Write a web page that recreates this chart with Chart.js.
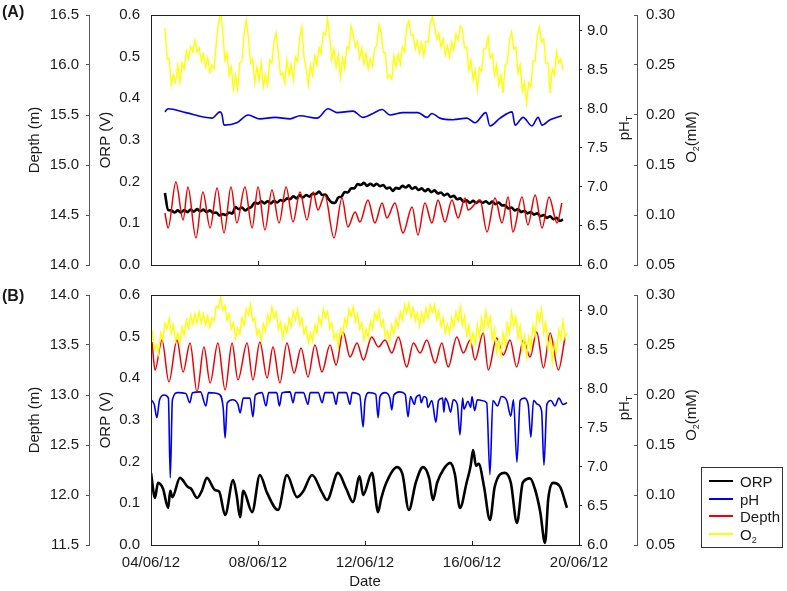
<!DOCTYPE html>
<html>
<head>
<meta charset="utf-8">
<script src="https://cdn.jsdelivr.net/npm/chart.js@4.4.1/dist/chart.umd.min.js"></script>
<style>
  body { margin: 0; background: #fff; font-family: "Liberation Sans", Arial, sans-serif; }
  #wrap { position: relative; width: 787px; height: 591px; overflow: hidden; }
  canvas { position: absolute; left: 0; }
  .lbl { position: absolute; font-size: 15px; color: #1a1a1a; white-space: nowrap; line-height: 1; }
  .rot { transform: translate(-50%, -50%) rotate(-90deg); }
  .panel { font-weight: bold; font-size: 16px; }
  sub { font-size: 9px; vertical-align: -3px; }
  #legend { position: absolute; left: 701px; top: 467px; width: 82px; height: 81px; border: 1px solid #333; box-sizing: border-box; }
  .row { position: absolute; left: 0; height: 17px; width: 80px; }
  .sw { position: absolute; left: 7px; top: 8px; width: 24px; height: 2px; }
  .row span { position: absolute; left: 38px; top: 1px; font-size: 15px; color: #1a1a1a; }
</style>
</head>
<body>
<div id="wrap">
  <canvas id="chartA" width="787" height="280" style="top:0"></canvas>
  <canvas id="chartB" width="787" height="311" style="top:280px"></canvas>
  <div class="lbl panel" style="left:2px;top:4px">(A)</div>
  <div class="lbl panel" style="left:2px;top:288px">(B)</div>
  <div class="lbl rot" style="left:625px;top:128px">pH<sub>T</sub></div>
  <div class="lbl rot" style="left:692px;top:137px">O<sub>2</sub>(mM)</div>
  <div class="lbl rot" style="left:625px;top:408px">pH<sub>T</sub></div>
  <div class="lbl rot" style="left:692px;top:415px">O<sub>2</sub>(mM)</div>
  <div id="legend"></div>
</div>
<script>
// x axis: day of June 2012
const tickDays = [4, 8, 12, 16, 20];
const tickDates = ["04/06/12", "08/06/12", "12/06/12", "16/06/12", "20/06/12"];
const seriesNames = ["ORP", "pH", "Depth", "O<sub>2</sub>"];
const seriesColors = ["#000000", "#0000f0", "#f00000", "#ffff00"];

// ---- panel A ----
// ORP logged every 0.12 day
const orpA_start = 4.52;
const orpA_step = 0.12;
const orpA_v = [
  0.173, 0.132, 0.131, 0.126, 0.131, 0.126, 0.132, 0.127, 0.133, 0.128, 0.134, 0.129, 0.133, 0.127, 0.131, 0.125, 0.126, 0.119, 0.122, 0.120,
  0.126, 0.124, 0.139, 0.134, 0.138, 0.131, 0.136, 0.140, 0.150, 0.147, 0.153, 0.148, 0.153, 0.148, 0.154, 0.150, 0.156, 0.153, 0.160, 0.158,
  0.165, 0.160, 0.167, 0.162, 0.168, 0.164, 0.171, 0.170, 0.176, 0.168, 0.169, 0.158, 0.150, 0.149, 0.162, 0.164, 0.175, 0.174, 0.184, 0.184,
  0.194, 0.192, 0.197, 0.190, 0.195, 0.190, 0.195, 0.189, 0.192, 0.184, 0.186, 0.178, 0.185, 0.183, 0.190, 0.186, 0.191, 0.183, 0.187, 0.180,
  0.184, 0.177, 0.182, 0.175, 0.179, 0.172, 0.174, 0.167, 0.171, 0.163, 0.166, 0.158, 0.160, 0.152, 0.155, 0.149, 0.154, 0.149, 0.154, 0.149,
  0.153, 0.147, 0.152, 0.146, 0.150, 0.143, 0.143, 0.136, 0.138, 0.131, 0.134, 0.127, 0.130, 0.124, 0.127, 0.121, 0.124, 0.117, 0.120, 0.113,
  0.117, 0.110, 0.113, 0.106, 0.109,
];

const phA_t = [4.52, 4.64, 5.30, 6.28, 6.58, 6.65, 6.73, 7.21, 7.63, 8.07, 8.64, 9.20, 9.57, 10.21, 10.62, 10.95, 11.55, 11.93, 12.30, 12.64, 12.93, 13.42, 13.98, 14.32, 14.50, 14.80, 15.29, 15.81, 16.11, 16.52, 16.67, 17.05, 17.50, 17.61, 17.91, 18.24, 18.47, 18.62, 18.92, 19.36];
const phA_v = [7.96, 8.00, 7.95, 7.88, 7.96, 7.93, 7.79, 7.82, 7.92, 7.87, 7.89, 7.87, 7.91, 7.88, 8.00, 7.95, 7.97, 7.89, 7.94, 7.99, 7.92, 7.95, 7.95, 7.89, 7.94, 7.88, 7.86, 7.88, 7.82, 7.95, 7.78, 7.88, 7.96, 7.79, 7.89, 7.78, 7.89, 7.79, 7.86, 7.91];

const depthA_t = [4.52, 4.64, 4.93, 5.20, 5.38, 5.68, 5.94, 6.21, 6.47, 6.73, 6.99, 7.21, 7.51, 7.78, 8.00, 8.26, 8.52, 8.79, 9.05, 9.31, 9.57, 9.83, 10.06, 10.24, 10.50, 10.84, 11.14, 11.36, 11.63, 11.81, 12.11, 12.37, 12.64, 12.82, 13.12, 13.42, 13.76, 13.98, 14.24, 14.50, 14.73, 14.99, 15.25, 15.48, 15.74, 15.85, 16.30, 16.56, 16.86, 17.12, 17.35, 17.53, 17.87, 18.09, 18.36, 18.62, 18.88, 19.18, 19.36];
const depthA_v = [14.52, 14.37, 14.83, 14.45, 14.78, 14.27, 14.73, 14.37, 14.77, 14.32, 14.78, 14.42, 14.78, 14.37, 14.78, 14.35, 14.75, 14.42, 14.78, 14.43, 14.73, 14.45, 14.73, 14.55, 14.70, 14.27, 14.67, 14.38, 14.53, 14.43, 14.65, 14.42, 14.62, 14.47, 14.62, 14.32, 14.58, 14.30, 14.62, 14.42, 14.65, 14.43, 14.65, 14.47, 14.67, 14.55, 14.65, 14.33, 14.67, 14.42, 14.68, 14.33, 14.68, 14.40, 14.70, 14.37, 14.68, 14.42, 14.62];

// O2 logged every 0.08 day
const o2A_start = 4.52;
const o2A_step = 0.08;
const o2A_v = [
  0.287, 0.256, 0.256, 0.230, 0.240, 0.233, 0.250, 0.233, 0.252, 0.246, 0.264, 0.256, 0.268, 0.263, 0.275, 0.263, 0.267, 0.254, 0.261, 0.248,
  0.257, 0.243, 0.250, 0.246, 0.272, 0.292, 0.305, 0.285, 0.255, 0.262, 0.240, 0.248, 0.226, 0.240, 0.225, 0.252, 0.254, 0.282, 0.295, 0.278,
  0.252, 0.256, 0.232, 0.248, 0.235, 0.252, 0.228, 0.240, 0.230, 0.255, 0.252, 0.274, 0.282, 0.262, 0.240, 0.242, 0.232, 0.255, 0.240, 0.250,
  0.235, 0.258, 0.254, 0.278, 0.288, 0.258, 0.246, 0.230, 0.250, 0.240, 0.259, 0.250, 0.267, 0.262, 0.282, 0.280, 0.296, 0.278, 0.255, 0.266,
  0.248, 0.260, 0.238, 0.257, 0.246, 0.268, 0.266, 0.289, 0.280, 0.268, 0.273, 0.257, 0.267, 0.251, 0.262, 0.246, 0.256, 0.249, 0.266, 0.270,
  0.290, 0.283, 0.263, 0.262, 0.237, 0.240, 0.236, 0.259, 0.248, 0.261, 0.251, 0.268, 0.263, 0.289, 0.294, 0.280, 0.280, 0.266, 0.274, 0.262,
  0.272, 0.259, 0.274, 0.273, 0.292, 0.298, 0.288, 0.276, 0.282, 0.268, 0.276, 0.260, 0.269, 0.258, 0.273, 0.265, 0.281, 0.275, 0.289, 0.286,
  0.267, 0.268, 0.245, 0.255, 0.235, 0.245, 0.226, 0.247, 0.244, 0.266, 0.267, 0.278, 0.257, 0.261, 0.240, 0.250, 0.230, 0.240, 0.222, 0.250,
  0.252, 0.275, 0.283, 0.266, 0.268, 0.242, 0.250, 0.224, 0.233, 0.212, 0.232, 0.228, 0.254, 0.254, 0.279, 0.288, 0.273, 0.276, 0.252, 0.252,
  0.222, 0.246, 0.240, 0.263, 0.252, 0.256, 0.245,
];

// ---- panel B ----
const orpB_t = [4.00, 4.15, 4.26, 4.45, 4.64, 4.72, 4.80, 5.08, 5.38, 5.50, 5.72, 5.90, 6.09, 6.39, 6.55, 6.77, 7.07, 7.20, 7.33, 7.45, 7.78, 8.07, 8.34, 8.75, 9.08, 9.46, 9.70, 10.02, 10.40, 10.58, 10.99, 11.30, 11.55, 11.80, 11.93, 12.26, 12.49, 12.60, 12.80, 13.20, 13.40, 13.64, 13.90, 14.17, 14.40, 14.54, 14.70, 14.92, 15.18, 15.36, 15.55, 15.80, 15.95, 16.04, 16.15, 16.25, 16.45, 16.67, 16.85, 17.23, 17.45, 17.68, 17.90, 18.17, 18.35, 18.55, 18.73, 18.85, 19.03, 19.29, 19.55];
const orpB_v = [0.173, 0.113, 0.149, 0.135, 0.089, 0.130, 0.115, 0.161, 0.139, 0.135, 0.113, 0.130, 0.161, 0.132, 0.128, 0.072, 0.156, 0.120, 0.067, 0.130, 0.079, 0.168, 0.125, 0.084, 0.168, 0.115, 0.130, 0.168, 0.125, 0.108, 0.173, 0.135, 0.103, 0.165, 0.120, 0.173, 0.079, 0.110, 0.150, 0.187, 0.170, 0.084, 0.150, 0.187, 0.160, 0.108, 0.150, 0.180, 0.197, 0.170, 0.089, 0.150, 0.190, 0.228, 0.190, 0.195, 0.140, 0.060, 0.140, 0.173, 0.150, 0.053, 0.150, 0.160, 0.135, 0.080, 0.005, 0.110, 0.149, 0.140, 0.089];

const phB_t = [4.00, 4.12, 4.22, 4.32, 4.50, 4.65, 4.72, 4.80, 5.00, 5.30, 5.45, 5.55, 5.85, 6.05, 6.15, 6.55, 6.70, 6.77, 6.85, 7.05, 7.25, 7.33, 7.45, 7.70, 7.81, 7.90, 8.15, 8.30, 8.40, 8.70, 8.80, 8.90, 9.20, 9.31, 9.40, 9.70, 9.87, 9.95, 10.25, 10.40, 10.50, 10.80, 10.92, 11.00, 11.30, 11.44, 11.52, 11.80, 11.93, 12.00, 12.15, 12.40, 12.49, 12.56, 12.75, 12.93, 13.00, 13.08, 13.30, 13.50, 13.61, 13.70, 13.85, 13.90, 14.05, 14.10, 14.20, 14.30, 14.35, 14.50, 14.65, 14.75, 14.90, 14.95, 15.00, 15.10, 15.20, 15.30, 15.45, 15.55, 15.65, 15.70, 15.85, 15.95, 16.00, 16.10, 16.20, 16.35, 16.55, 16.67, 16.78, 16.95, 17.10, 17.30, 17.45, 17.55, 17.68, 17.80, 17.95, 18.10, 18.20, 18.30, 18.45, 18.60, 18.69, 18.80, 18.95, 19.10, 19.25, 19.40, 19.55];
const phB_v = [7.86, 7.80, 7.63, 7.86, 7.92, 7.88, 6.86, 7.86, 7.95, 7.94, 7.82, 7.95, 7.96, 7.78, 7.95, 7.93, 7.75, 7.37, 7.82, 7.86, 7.80, 7.69, 7.88, 7.88, 7.64, 7.92, 7.95, 7.78, 7.95, 7.95, 7.78, 7.95, 7.96, 7.82, 7.95, 7.95, 7.80, 7.95, 7.95, 7.82, 7.95, 7.95, 7.80, 7.95, 7.95, 7.80, 7.95, 7.92, 7.51, 7.85, 7.95, 7.93, 7.63, 7.90, 7.95, 7.88, 7.73, 7.92, 7.96, 7.93, 7.64, 7.90, 7.80, 7.88, 7.92, 7.82, 7.90, 7.88, 7.76, 7.85, 7.57, 7.85, 7.88, 7.70, 7.88, 7.82, 7.70, 7.86, 7.80, 7.41, 7.88, 7.74, 7.84, 7.76, 7.90, 7.72, 7.86, 7.85, 7.82, 6.90, 7.85, 7.78, 7.90, 7.85, 7.65, 7.86, 7.06, 7.85, 7.88, 7.80, 7.38, 7.85, 7.80, 7.72, 7.02, 7.80, 7.85, 7.78, 7.88, 7.80, 7.82];

const depthB_t = [4.04, 4.15, 4.41, 4.67, 4.97, 5.20, 5.46, 5.72, 5.98, 6.21, 6.50, 6.77, 7.03, 7.25, 7.59, 7.81, 8.07, 8.34, 8.56, 8.82, 9.08, 9.35, 9.61, 9.87, 10.13, 10.39, 10.69, 10.92, 11.18, 11.44, 11.70, 11.94, 12.25, 12.50, 12.75, 13.00, 13.25, 13.56, 13.81, 14.06, 14.31, 14.62, 14.87, 15.11, 15.43, 15.68, 15.93, 16.11, 16.42, 16.61, 16.92, 17.17, 17.42, 17.67, 17.92, 18.17, 18.42, 18.67, 18.92, 19.23, 19.48];
const depthB_v = [13.53, 13.25, 13.55, 13.13, 13.55, 13.23, 13.52, 13.03, 13.48, 13.12, 13.52, 13.05, 13.52, 13.15, 13.52, 13.15, 13.53, 13.17, 13.48, 13.12, 13.52, 13.22, 13.47, 13.18, 13.50, 13.23, 13.50, 13.30, 13.63, 13.38, 13.52, 13.35, 13.58, 13.48, 13.55, 13.42, 13.58, 13.28, 13.52, 13.42, 13.55, 13.32, 13.52, 13.28, 13.58, 13.42, 13.55, 13.35, 13.62, 13.25, 13.57, 13.40, 13.55, 13.28, 13.55, 13.38, 13.63, 13.27, 13.62, 13.25, 13.58];

const o2B_start = 4.04;
const o2B_step = 0.08;
const o2B_v = [
  0.265, 0.246, 0.250, 0.241, 0.262, 0.255, 0.272, 0.266, 0.276, 0.262, 0.270, 0.254, 0.262, 0.252, 0.268, 0.260, 0.275, 0.267, 0.280, 0.271,
  0.281, 0.272, 0.283, 0.272, 0.281, 0.270, 0.279, 0.268, 0.277, 0.274, 0.289, 0.287, 0.298, 0.285, 0.290, 0.275, 0.281, 0.266, 0.272, 0.257,
  0.267, 0.261, 0.277, 0.270, 0.286, 0.280, 0.291, 0.274, 0.277, 0.260, 0.265, 0.255, 0.271, 0.264, 0.280, 0.273, 0.288, 0.277, 0.283, 0.266,
  0.273, 0.257, 0.270, 0.262, 0.277, 0.268, 0.283, 0.275, 0.286, 0.270, 0.277, 0.261, 0.268, 0.252, 0.262, 0.254, 0.270, 0.262, 0.278, 0.270,
  0.286, 0.277, 0.283, 0.266, 0.272, 0.256, 0.262, 0.248, 0.266, 0.259, 0.276, 0.269, 0.286, 0.279, 0.288, 0.273, 0.281, 0.266, 0.272, 0.255,
  0.266, 0.258, 0.274, 0.266, 0.282, 0.275, 0.285, 0.269, 0.275, 0.258, 0.264, 0.254, 0.270, 0.261, 0.276, 0.268, 0.283, 0.275, 0.290, 0.282,
  0.292, 0.278, 0.287, 0.274, 0.282, 0.269, 0.282, 0.273, 0.287, 0.277, 0.290, 0.283, 0.290, 0.276, 0.284, 0.269, 0.277, 0.262, 0.271, 0.262,
  0.277, 0.268, 0.283, 0.274, 0.288, 0.270, 0.279, 0.260, 0.270, 0.251, 0.262, 0.251, 0.270, 0.258, 0.277, 0.265, 0.284, 0.268, 0.278, 0.255,
  0.266, 0.243, 0.255, 0.239, 0.262, 0.250, 0.272, 0.262, 0.283, 0.269, 0.278, 0.257, 0.269, 0.246, 0.259, 0.238, 0.258, 0.246, 0.270, 0.259,
  0.283, 0.274, 0.286, 0.262, 0.272, 0.247, 0.257, 0.233, 0.251, 0.243, 0.265, 0.255, 0.274, 0.257, 0.262,
];

Chart.defaults.font.family = "'Liberation Sans', Arial, sans-serif";
Chart.defaults.font.size = 15;
Chart.defaults.color = "#1a1a1a";

function pts(t, v) {
  return t.map((x, i) => ({ x: x, y: v[i] }));
}

// evenly logged series: time of sample i is start + i * step
function logged(start, step, v) {
  return v.map((y, i) => ({ x: start + i * step, y: y }));
}

// frame round the plot area
const boxBorder = {
  id: "boxBorder",
  afterDatasetsDraw(chart) {
    const a = chart.chartArea;
    const ctx = chart.ctx;
    ctx.save();
    ctx.strokeStyle = "#222";
    ctx.lineWidth = 1;
    ctx.strokeRect(Math.round(a.left) + 0.5, Math.round(a.top) + 0.5, Math.round(a.right - a.left), Math.round(a.bottom - a.top));
    ctx.restore();
  },
};

// keep the plot area where the frame is, not pushed by half-label paddings
function fixWidth(w) {
  return (s) => {
    s.width = w;
    s.paddingTop = 0;
    s.paddingBottom = 0;
  };
}

function makePanel(id, p) {
  return new Chart(document.getElementById(id), {
    type: "line",
    data: {
      datasets: [
        { label: "ORP", data: p.orp, yAxisID: "orp", borderColor: seriesColors[0], borderWidth: 2.6, order: 3 },
        { label: "pH", data: pts(p.phT, p.phV), yAxisID: "ph", borderColor: seriesColors[1], borderWidth: 1.6, order: 2 },
        { label: "Depth", data: pts(p.depthT, p.depthV), yAxisID: "depth", borderColor: seriesColors[2], borderWidth: 1.5, order: 1 },
        { label: "O2", data: p.o2, yAxisID: "o2", borderColor: seriesColors[3], borderWidth: 1.4, order: 0, cubicInterpolationMode: "default", tension: 0 },
      ],
    },
    options: {
      responsive: false,
      animation: false,
      events: [],
      layout: { padding: { top: 15, right: 90, left: 0, bottom: 0 } },
      elements: {
        point: { radius: 0 },
        line: { cubicInterpolationMode: "monotone", fill: false },
      },
      plugins: { legend: { display: false }, tooltip: { enabled: false } },
      scales: {
        x: {
          type: "linear",
          position: "bottom",
          min: 4,
          max: 20,
          afterFit: (s) => {
            s.height = p.xHeight;
            s.paddingLeft = 0;
            s.paddingRight = 0;
          },
          afterBuildTicks: (s) => { s.ticks = tickDays.map((d) => ({ value: d })); },
          ticks: {
            display: p.showX,
            autoSkip: false,
            maxRotation: 0,
            padding: 13,
            callback: (v) => tickDates[tickDays.indexOf(v)],
          },
          grid: { drawOnChartArea: false, tickLength: -4, color: "#222" },
          border: { color: "#222" },
          title: { display: p.showX, text: "Date", padding: { top: 0, bottom: 0 } },
        },
        depth: {
          position: "left",
          weight: 1,
          min: p.depthMin,
          max: p.depthMax,
          afterFit: fixWidth(89),
          ticks: { stepSize: 0.5, padding: 7, callback: (v) => v.toFixed(1) },
          grid: { drawOnChartArea: false, tickLength: 3, color: "#555" },
          border: { color: "#555" },
          title: { display: true, text: "Depth (m)", padding: { top: 26, bottom: 0 } },
        },
        orp: {
          position: "left",
          weight: 0,
          min: 0,
          max: 0.6,
          afterFit: fixWidth(62),
          ticks: { stepSize: 0.1, padding: 11, callback: (v) => v.toFixed(1) },
          grid: { drawOnChartArea: false, drawTicks: false },
          border: { color: "#222" },
          title: { display: true, text: "ORP (V)", padding: { top: 8, bottom: 0 } },
        },
        ph: {
          position: "right",
          weight: 0,
          min: 6,
          max: 9.2,
          afterFit: fixWidth(58),
          ticks: { stepSize: 0.5, padding: 5, includeBounds: false, callback: (v) => v.toFixed(1) },
          grid: { drawOnChartArea: false, tickLength: 3, color: "#222" },
          border: { color: "#222" },
        },
        o2: {
          position: "right",
          weight: 1,
          min: 0.05,
          max: 0.3,
          afterFit: fixWidth(60),
          ticks: { stepSize: 0.05, padding: 12, callback: (v) => v.toFixed(2) },
          grid: { drawOnChartArea: false, tickLength: -3, color: "#555" },
          border: { color: "#555" },
        },
      },
    },
    plugins: [boxBorder],
  });
}

makePanel("chartA", {
  orp: logged(orpA_start, orpA_step, orpA_v), phT: phA_t, phV: phA_v,
  depthT: depthA_t, depthV: depthA_v, o2: logged(o2A_start, o2A_step, o2A_v),
  depthMin: 14.0, depthMax: 16.5, showX: false, xHeight: 15,
});

const chartB = makePanel("chartB", {
  orp: pts(orpB_t, orpB_v), phT: phB_t, phV: phB_v,
  depthT: depthB_t, depthV: depthB_v, o2: logged(o2B_start, o2B_step, o2B_v),
  depthMin: 11.5, depthMax: 14.0, showX: true, xHeight: 46,
});

// legend built from the chart's datasets
const legend = document.getElementById("legend");
chartB.data.datasets.forEach((ds, i) => {
  const row = document.createElement("div");
  row.className = "row";
  row.style.top = 4 + i * 17.5 + "px";
  row.innerHTML = `<div class="sw" style="background:${ds.borderColor}"></div><span>${seriesNames[i]}</span>`;
  legend.appendChild(row);
});
</script>
</body>
</html>
